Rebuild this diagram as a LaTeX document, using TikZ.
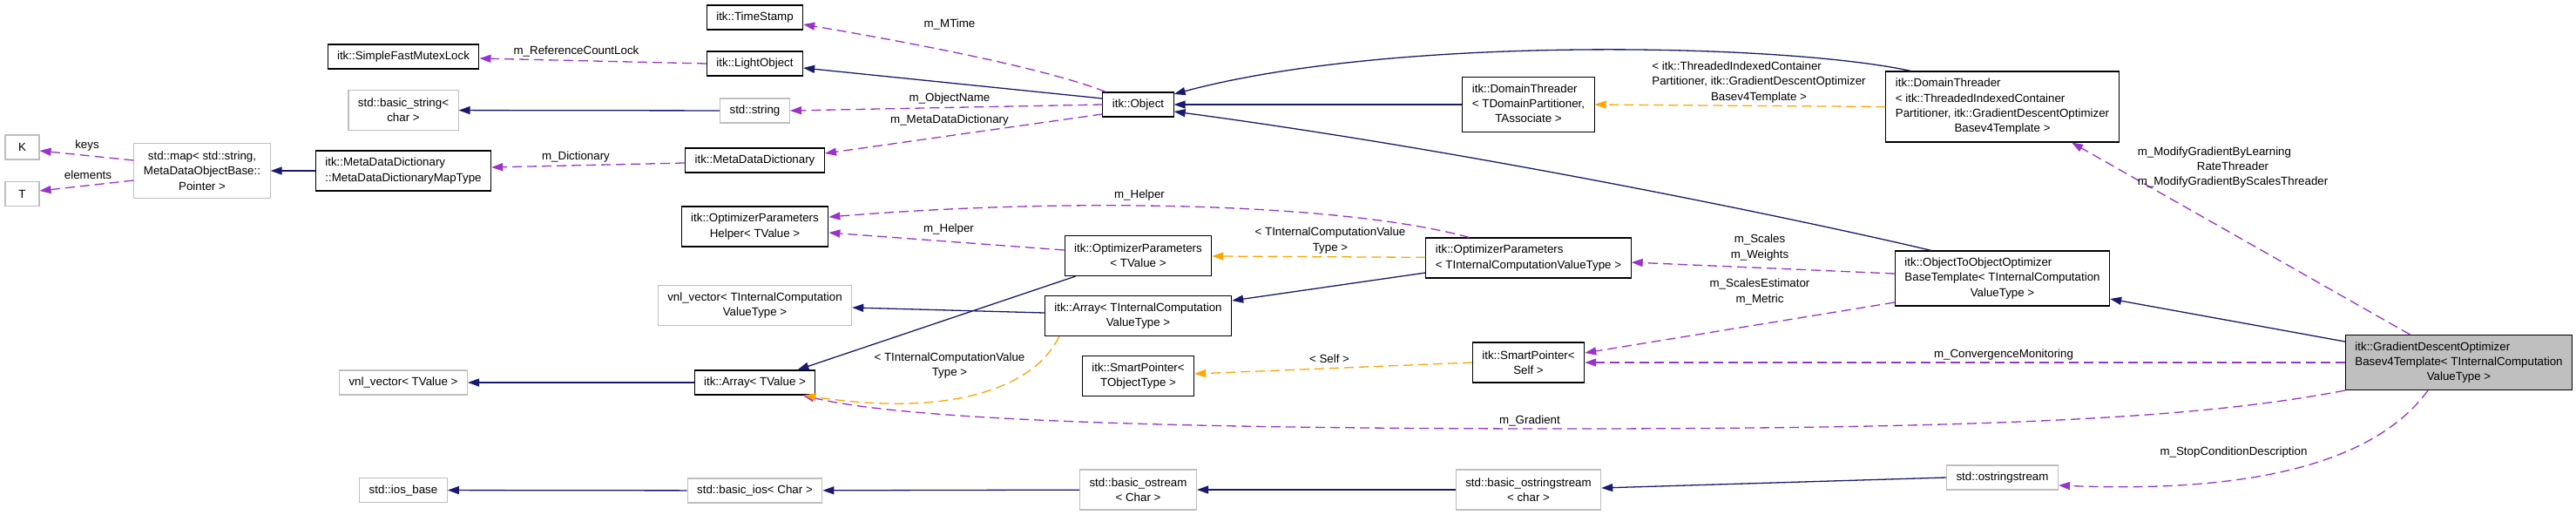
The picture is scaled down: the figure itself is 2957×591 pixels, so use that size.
\documentclass[tikz,border=0pt]{standalone}
\usepackage{fontspec}
\setmainfont{Liberation Sans}
\usetikzlibrary{arrows.meta}

\definecolor{navy}{HTML}{191970}
\definecolor{orchid}{HTML}{9A32CD}
\definecolor{amber}{HTML}{FFA500}
\definecolor{boxgray}{HTML}{BFBFBF}

% left-aligned rows, last row centred
\newcommand{\lrows}[1]{\begin{tabular}{@{}l@{}}#1\end{tabular}}
\newcommand{\crow}[1]{\multicolumn{1}{@{}c@{}}{#1}}

\begin{document}
\begin{tikzpicture}[x=1pt,y=-1pt,
  every node/.style={font=\fontsize{13.33pt}{17.33pt}\selectfont},
  cls/.style={draw=black,line width=1.1pt,inner xsep=11pt,inner ysep=2pt,minimum width=39pt,align=center},
  ext/.style={cls,draw=boxgray},
  cur/.style={cls,fill=boxgray},
  rows1/.style={minimum height=28pt},
  rows2/.style={minimum height=46pt},
  rows3/.style={minimum height=63pt},
  rows4/.style={minimum height=81pt},
  inherit/.style={draw=navy,line width=1.3pt,-{Triangle[length=13pt,width=9pt]}},
  member/.style={draw=orchid,line width=1.3pt,dash pattern=on 11pt off 6pt,-{Triangle[length=13pt,width=9pt]}},
  instance/.style={member,draw=amber},
  elabel/.style={inner sep=0pt,align=center}]
  \useasboundingbox (0,0) rectangle (2957,591);

  % classes
  \node[ext,rows1] (k) at (25.5,169) {K};
  \node[ext,rows1] (t) at (25.5,222.5) {T};
  \node[ext,rows3] (stdmap) at (232,196) {std::map< std::string,\\MetaDataObjectBase::\\Pointer >};
  \node[cls,rows2] (maptype) at (463,196) {\lrows{itk::MetaDataDictionary\\::MetaDataDictionaryMapType}};
  \node[cls,rows1] (sfml) at (463,65) {itk::SimpleFastMutexLock};
  \node[ext,rows2] (bstr) at (463,126.5) {std::basic\_string<\\char >};
  \node[ext,rows1] (vnlval) at (463,439) {vnl\_vector< TValue >};
  \node[ext,rows1] (iosbase) at (463,562.5) {std::ios\_base};

  \node[cls,rows1] (tstamp) at (866.5,20) {itk::TimeStamp};
  \node[cls,rows1] (light) at (866.5,73) {itk::LightObject};
  \node[ext,rows1] (sstr) at (866.5,127) {std::string};
  \node[cls,rows1] (mdd) at (866.5,184) {itk::MetaDataDictionary};
  \node[cls,rows2] (helper) at (866.5,260) {itk::OptimizerParameters\\Helper< TValue >};
  \node[ext,rows2] (vnlint) at (866.5,350.5) {vnl\_vector< TInternalComputation\\ValueType >};
  \node[cls,rows1] (arrval) at (866.5,439) {itk::Array< TValue >};
  \node[ext,rows1] (bios) at (866.5,563) {std::basic\_ios< Char >};

  \node[cls,rows1] (obj) at (1306.5,120) {itk::Object};
  \node[cls,rows2] (optval) at (1306.5,293.5) {itk::OptimizerParameters\\< TValue >};
  \node[cls,rows2] (arrint) at (1306.5,362.5) {itk::Array< TInternalComputation\\ValueType >};
  \node[cls,rows2] (sptype) at (1306.5,431.5) {itk::SmartPointer<\\TObjectType >};
  \node[ext,rows2] (bost) at (1306.5,562) {std::basic\_ostream\\< Char >};

  \node[cls,rows3] (dtpart) at (1754.5,120) {\lrows{itk::DomainThreader\\< TDomainPartitioner,\\\crow{TAssociate >}}};
  \node[cls,rows2] (optint) at (1754.5,296) {\lrows{itk::OptimizerParameters\\< TInternalComputationValueType >}};
  \node[cls,rows2] (spself) at (1754.5,416) {itk::SmartPointer<\\Self >};
  \node[ext,rows2] (bostr) at (1754.5,562) {std::basic\_ostringstream\\< char >};

  \node[cls,rows4] (dtgd) at (2298.5,122.5) {\lrows{itk::DomainThreader\\< itk::ThreadedIndexedContainer\\Partitioner, itk::GradientDescentOptimizer\\\crow{Basev4Template >}}};
  \node[cls,rows3] (o2o) at (2298.5,319.5) {\lrows{itk::ObjectToObjectOptimizer\\BaseTemplate< TInternalComputation\\\crow{ValueType >}}};
  \node[ext,rows1] (ostr) at (2298.5,548) {std::ostringstream};

  \node[cur,rows3] (gd) at (2822.5,416) {\lrows{itk::GradientDescentOptimizer\\Basev4Template< TInternalComputation\\\crow{ValueType >}}};

  \coordinate (gradlow) at (1800,492);

  % inheritance
  \draw[inherit] (maptype) -- (stdmap);
  \draw[inherit] (sstr) -- (bstr);
  \draw[inherit] ([yshift=7pt]obj.west) -- ([yshift=-5pt]light.east);
  \draw[inherit] (dtpart) -- (obj);
  \draw[inherit] ([xshift=29pt]dtgd.north west) .. controls (2050,50) and (1600,40) .. ([yshift=12pt]obj.east);
  \draw[inherit] ([xshift=42pt]o2o.north west) .. controls (2080,255) and (1700,175) .. ([yshift=-8pt]obj.east);
  \draw[inherit] ([yshift=-17pt]optint.west) -- ([yshift=17.5pt]arrint.east);
  \draw[inherit] ([yshift=3.5pt]arrint.west) -- ([yshift=-2.5pt]vnlint.east);
  \draw[inherit] ([xshift=13pt]optval.south west) -- ([xshift=-21pt]arrval.north east);
  \draw[inherit] (arrval) -- (vnlval);
  \draw[inherit] ([yshift=24pt]gd.west) -- ([yshift=-23.5pt]o2o.east);
  \draw[inherit] (ostr.west) -- ([yshift=2pt]bostr.east);
  \draw[inherit] (bostr) -- (bost);
  \draw[inherit] (bost) -- (bios);
  \draw[inherit] (bios) -- (iosbase);

  % members
  \draw[member] ([yshift=12pt]stdmap.west) -- ([yshift=-4pt]k.east);
  \draw[member] ([yshift=-11pt]stdmap.west) -- ([yshift=3.5pt]t.east);
  \draw[member] ([yshift=-3pt]mdd.west) -- ([yshift=4pt]maptype.east);
  \draw[member] (light.west) -- ([yshift=-2pt]sfml.east);
  \draw[member] ([xshift=4pt]obj.north west) .. controls (1200,78) and (1040,48) .. ([yshift=-8pt]tstamp.east);
  \draw[member] (obj.west) -- (sstr.east);
  \draw[member] ([yshift=-11pt]obj.west) -- ([yshift=8pt]mdd.east);
  \draw[member] ([xshift=50pt]optint.north west) .. controls (1550,235) and (1250,225) .. ([yshift=11pt]helper.east);
  \draw[member] ([yshift=6.5pt]optval.west) -- ([yshift=-7pt]helper.east);
  \draw[member] ([yshift=5.5pt]o2o.west) -- ([yshift=-5pt]optint.east);
  \draw[member] ([yshift=-27.5pt]o2o.west) -- ([yshift=11pt]spself.east);
  \draw[member] (gd) -- (spself);
  \draw[member] ([xshift=-56pt]gd.north) -- ([xshift=79.5pt]dtgd.south);
  \draw[member] (gd.south west) .. controls (2550,475) and (2350,492) .. (gradlow)
    .. controls (1300,492) and (1030,480) .. ([xshift=-15pt]arrval.south east);
  \draw[member] ([xshift=-35.5pt]gd.south) .. controls (2720,540) and (2560,565) .. ([yshift=-9pt]ostr.east);

  % template instances
  \draw[instance] (dtgd.west) -- (dtpart.east);
  \draw[instance] (optint) -- (optval);
  \draw[instance] (spself.west) -- ([yshift=2.5pt]sptype.east);
  \draw[instance] ([xshift=17pt]arrint.south west) .. controls (1185,450) and (1080,478) .. ([xshift=-13pt]arrval.south east);

  % edge labels
  \node[elabel] (lkeys) at (100,167) {keys};
  \node[elabel] (lelem) at (101,201) {elements};
  \node[elabel] (lrefc) at (661.5,59) {m\_ReferenceCountLock};
  \node[elabel] (ldict) at (661,180) {m\_Dictionary};
  \node[elabel] (lmtime) at (1090,28) {m\_MTime};
  \node[elabel] (lname) at (1090,113) {m\_ObjectName};
  \node[elabel] (lmdd) at (1090,138) {m\_MetaDataDictionary};
  \node[elabel] (lhelpa) at (1308,224) {m\_Helper};
  \node[elabel] (lhelpb) at (1089,263) {m\_Helper};
  \node[elabel] (ltplarr) at (1090,419.5) {< TInternalComputationValue\\Type >};
  \node[elabel] (ltplopt) at (1527,276) {< TInternalComputationValue\\Type >};
  \node[elabel] (lself) at (1526,412) {< Self >};
  \node[elabel] (ltpldt) at (2019,94.5) {\lrows{< itk::ThreadedIndexedContainer\\Partitioner, itk::GradientDescentOptimizer\\\crow{Basev4Template >}}};
  \node[elabel] (lscales) at (2020,284) {m\_Scales\\m\_Weights};
  \node[elabel] (lestim) at (2020,335) {m\_ScalesEstimator\\m\_Metric};
  \node[elabel] (lgrad) at (1756,483) {m\_Gradient};
  \node[elabel] (lconv) at (2300,407) {m\_ConvergenceMonitoring};
  \node[elabel] (lmodify) at (2563,192) {\lrows{m\_ModifyGradientByLearning\\\crow{RateThreader}\\\crow{m\_ModifyGradientByScalesThreader}}};
  \node[elabel] (lstop) at (2564,519) {m\_StopConditionDescription};
\end{tikzpicture}
\end{document}
